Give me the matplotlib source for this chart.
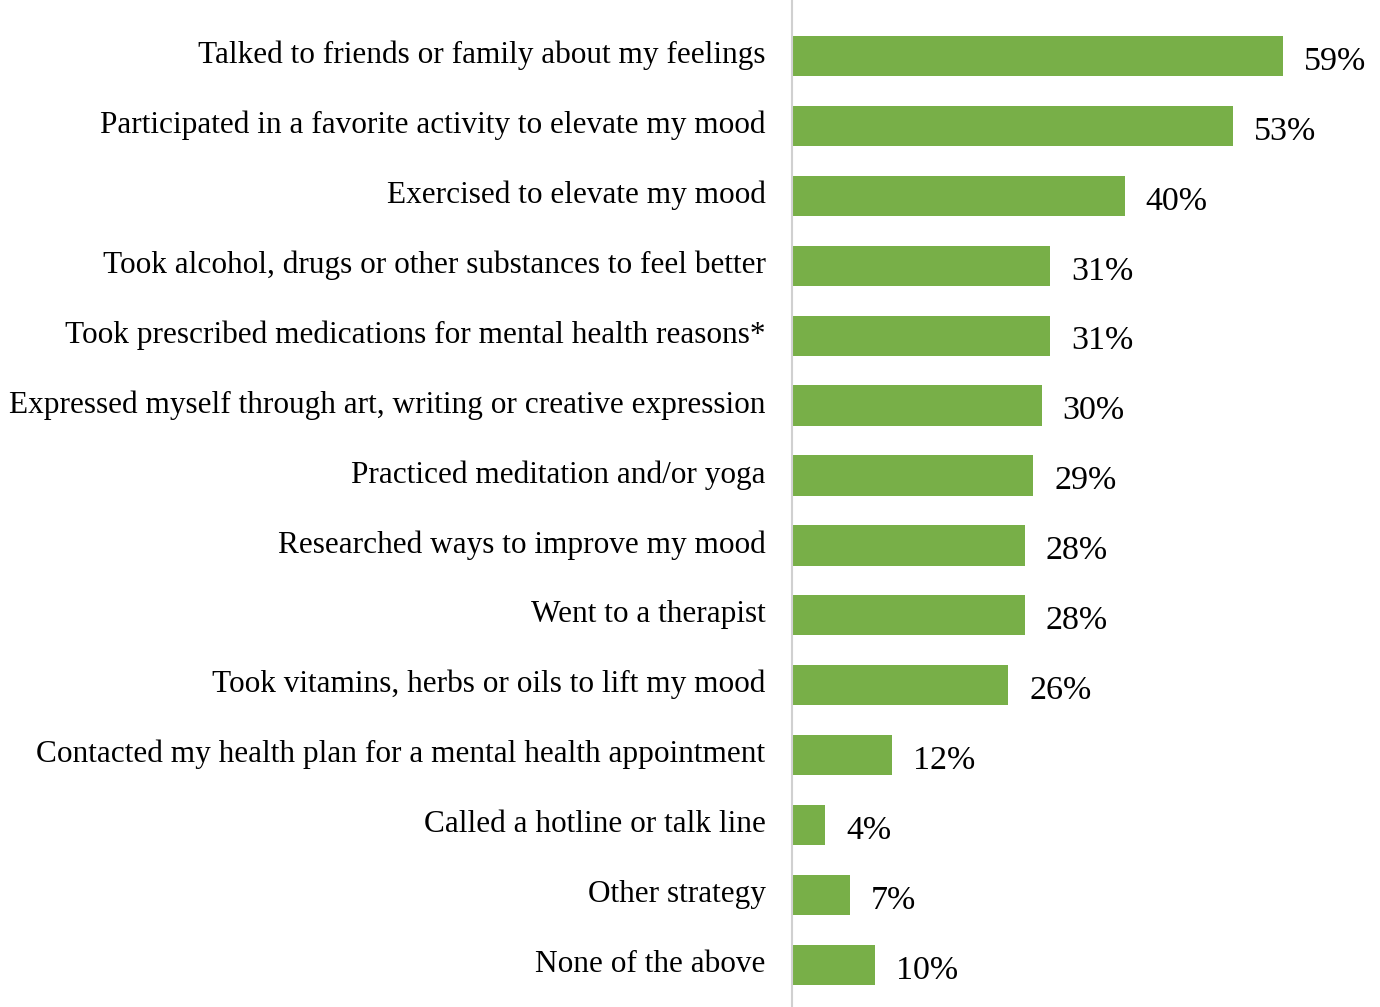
import matplotlib
matplotlib.use("Agg")
import matplotlib.pyplot as plt
from matplotlib.transforms import ScaledTranslation

categories = [
    "Talked to friends or family about my feelings",
    "Participated in a favorite activity to elevate my mood",
    "Exercised to elevate my mood",
    "Took alcohol, drugs or other substances to feel better",
    "Took prescribed medications for mental health reasons*",
    "Expressed myself through art, writing or creative expression",
    "Practiced meditation and/or yoga",
    "Researched ways to improve my mood",
    "Went to a therapist",
    "Took vitamins, herbs or oils to lift my mood",
    "Contacted my health plan for a mental health appointment",
    "Called a hotline or talk line",
    "Other strategy",
    "None of the above",
]
values = [59, 53, 40, 31, 31, 30, 29, 28, 28, 26, 12, 4, 7, 10]
value_labels = ["59%", "53%", "40%", "31%", "31%", "30%", "29%", "28%",
                "28%", "26%", "12%", "4%", "7%", "10%"]

bar_color = "#78AF48"
font = ["Liberation Serif", "DejaVu Serif"]
fsize = 22.5

fig = plt.figure(figsize=(13.8, 10.07), dpi=100)
ax = fig.add_axes([792 / 1380, 0, 1 - 792 / 1380, 1])

pos = list(range(len(categories)))
ax.barh(pos, values, height=0.575, color=bar_color, edgecolor="none")
ax.set_ylim(13.6, -0.80)
ax.set_xlim(0, (1380 - 792) / 8.32)

for p, v, lab in zip(pos, values, value_labels):
    ax.annotate(lab, xy=(v, p), xytext=(15, -4), textcoords="offset points",
                ha="left", va="center", fontsize=24.5, family=font,
                color="#000000")

ax.set_yticks(pos)
ax.set_yticklabels(categories, fontsize=fsize, family=font)
ax.tick_params(axis="y", length=0, pad=19)
ax.set_xticks([])
shift = ScaledTranslation(0, 3 / 72, fig.dpi_scale_trans)
for lab in ax.get_yticklabels():
    lab.set_transform(lab.get_transform() + shift)

for side in ["top", "right", "bottom"]:
    ax.spines[side].set_visible(False)
ax.spines["left"].set_color("#D0D0D0")
ax.spines["left"].set_linewidth(1.5)

fig.savefig("out.png", dpi=100)
